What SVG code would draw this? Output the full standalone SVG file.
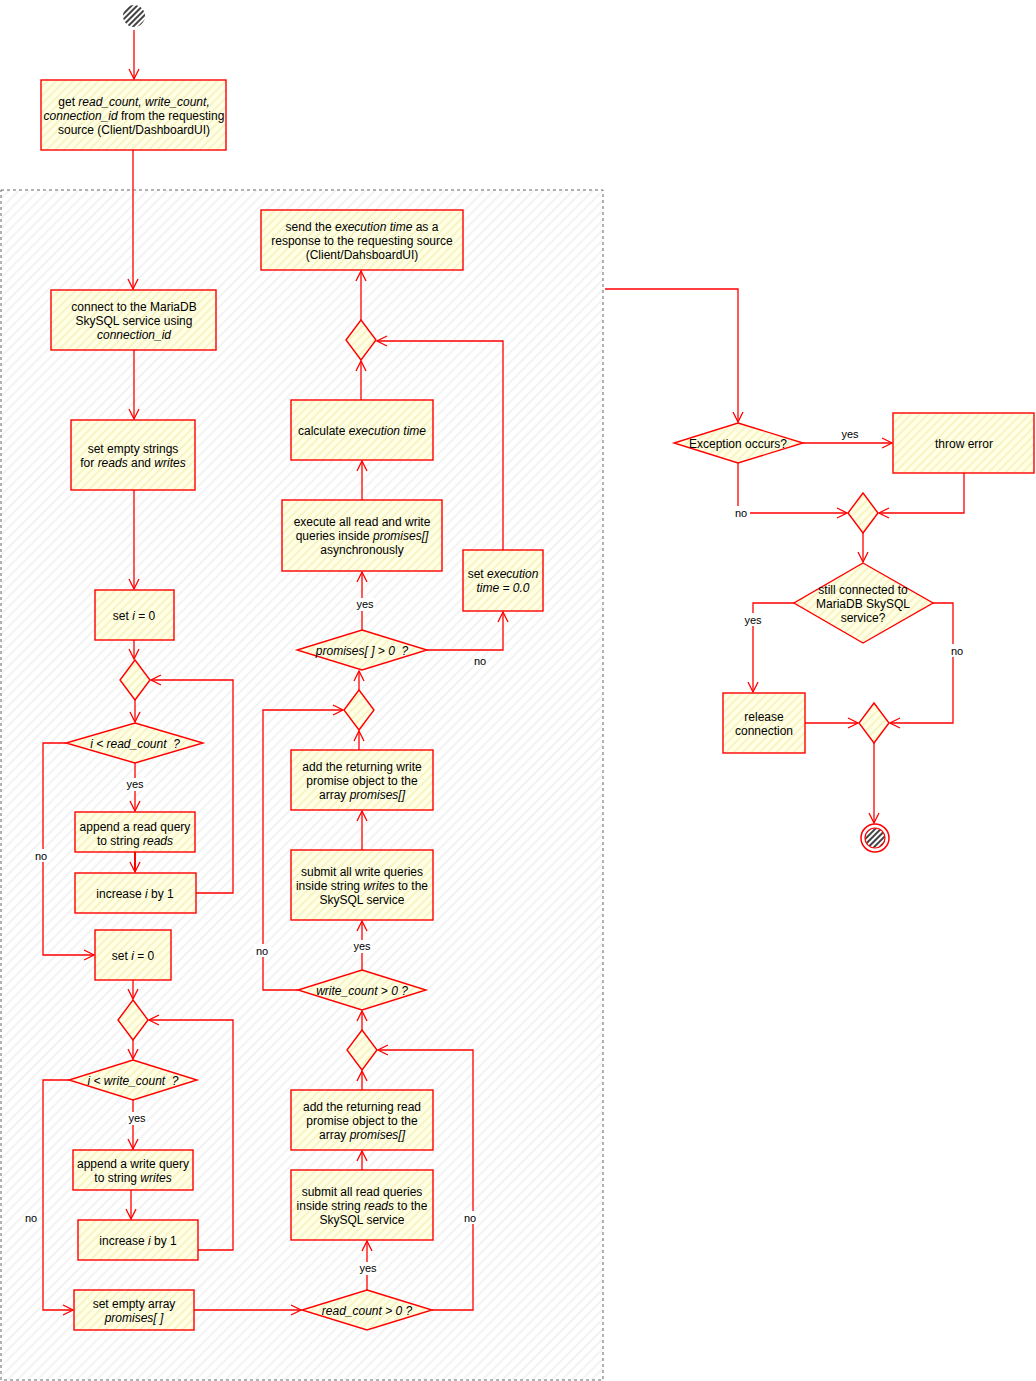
<svg xmlns="http://www.w3.org/2000/svg" width="1036" height="1381" viewBox="0 0 1036 1381">
<defs>
<pattern id="hy" patternUnits="userSpaceOnUse" width="6" height="6" patternTransform="rotate(-45)">
<rect width="6" height="6" fill="#ffffe6"/>
<line x1="0" y1="1" x2="6" y2="1" stroke="#f4efb4" stroke-width="1.4"/>
</pattern>
<pattern id="hg" patternUnits="userSpaceOnUse" width="7" height="7" patternTransform="rotate(-45)">
<rect width="7" height="7" fill="#ffffff"/>
<line x1="0" y1="1" x2="7" y2="1" stroke="#eeeeee" stroke-width="1.4"/>
</pattern>
<pattern id="hb" patternUnits="userSpaceOnUse" width="4" height="4" patternTransform="rotate(-45)">
<rect width="4" height="4" fill="#ffffff"/>
<line x1="0" y1="1" x2="4" y2="1" stroke="#111" stroke-width="1.6"/>
</pattern>
<marker id="ar" viewBox="0 0 12 12" refX="11" refY="6" markerWidth="12" markerHeight="12" markerUnits="userSpaceOnUse" orient="auto">
<path d="M1,1 L11,6 L1,11" fill="none" stroke="#ff0000" stroke-width="1.3"/>
</marker>
</defs>
<style>
.n rect,.n polygon{fill:url(#hy);stroke:#ff0000;stroke-width:1.4}
.c path{fill:none;stroke:#ff0000;stroke-width:1.3;marker-end:url(#ar)}
text{font-family:"Liberation Sans",Arial,sans-serif;font-size:12px;fill:#000;text-anchor:middle}
.l{font-size:11px}
.lb{fill:#ffffff;stroke:none}
</style>
<rect width="1036" height="1381" fill="#ffffff"/>
<g id="container">
<rect x="1" y="190" width="602" height="1190" fill="url(#hg)" stroke="#666" stroke-width="1" stroke-dasharray="3,3"/>
</g>

<g class="c" id="connectors">
<path d="M134,30 L134,79"/>
<path d="M133,150 L133,289"/>
<path d="M134,350 L134,419"/>
<path d="M134,490 L134,589"/>
<path d="M134,640 L134,659"/>
<path d="M135,700 L135,722"/>
<path d="M135,763 L135,811"/>
<path d="M135,852 L135,872" style="stroke-width:2"/>
<path d="M196,893 L233,893 L233,680 L151,680"/>
<path d="M66,743 L43,743 L43,955 L94,955"/>
<path d="M133,980 L133,999"/>
<path d="M133,1040 L133,1059"/>
<path d="M133,1100 L133,1149"/>
<path d="M131,1190 L131,1219"/>
<path d="M198,1250 L233,1250 L233,1020 L149,1020"/>
<path d="M69,1080 L43,1080 L43,1310 L73,1310"/>
<path d="M194,1310 L301,1310"/>
<path d="M367,1290 L367,1241"/>
<path d="M362,1170 L362,1151"/>
<path d="M362,1090 L362,1071"/>
<path d="M432,1310 L473,1310 L473,1050 L378,1050"/>
<path d="M362,1030 L362,1011"/>
<path d="M362,970 L362,921"/>
<path d="M362,850 L362,811"/>
<path d="M359,750 L359,731"/>
<path d="M298,990 L263,990 L263,710 L343,710"/>
<path d="M359,690 L359,671"/>
<path d="M362,630 L362,572"/>
<path d="M427,650 L503,650 L503,612"/>
<path d="M362,500 L362,461"/>
<path d="M361,400 L361,361"/>
<path d="M503,550 L503,341 L377,341"/>
<path d="M361,320 L361,271"/>
<path d="M605,289 L738,289 L738,422"/>
<path d="M803,443 L892,443"/>
<path d="M738,463 L738,513 L847,513"/>
<path d="M964,473 L964,513 L879,513"/>
<path d="M863,533 L863,562"/>
<path d="M794,603 L753,603 L753,692"/>
<path d="M933,603 L953,603 L953,723 L890,723"/>
<path d="M805,723 L858,723"/>
<path d="M874,743 L874,823"/>
</g>

<g id="edge-labels">
<rect class="lb" x="125" y="778" width="20" height="13"/><text class="l" x="135" y="788">yes</text>
<rect class="lb" x="33" y="849" width="17" height="13"/><text class="l" x="41" y="860">no</text>
<rect class="lb" x="127" y="1112" width="20" height="13"/><text class="l" x="137" y="1122">yes</text>
<text class="l" x="31" y="1222">no</text>
<rect class="lb" x="358" y="1262" width="20" height="13"/><text class="l" x="368" y="1272">yes</text>
<rect class="lb" x="462" y="1211" width="17" height="13"/><text class="l" x="470" y="1222">no</text>
<rect class="lb" x="352" y="940" width="20" height="13"/><text class="l" x="362" y="950">yes</text>
<rect class="lb" x="254" y="944" width="17" height="13"/><text class="l" x="262" y="955">no</text>
<rect class="lb" x="355" y="598" width="20" height="13"/><text class="l" x="365" y="608">yes</text>
<text class="l" x="480" y="665">no</text>
<text class="l" x="850" y="438">yes</text>
<rect class="lb" x="733" y="506" width="17" height="13"/><text class="l" x="741" y="517">no</text>
<rect class="lb" x="743" y="613" width="20" height="13"/><text class="l" x="753" y="624">yes</text>
<rect class="lb" x="949" y="644" width="17" height="13"/><text class="l" x="957" y="655">no</text>
</g>

<g id="start"><circle cx="134" cy="16" r="11" fill="url(#hb)"/></g>

<g class="n" id="get-params"><rect x="41" y="80" width="185" height="70"/>
<text x="134" y="106">get <tspan font-style="italic">read_count, write_count,</tspan></text>
<text x="134" y="120"><tspan font-style="italic">connection_id</tspan> from the requesting</text>
<text x="134" y="134">source (Client/DashboardUI)</text></g>

<g class="n" id="connect"><rect x="51" y="290" width="165" height="60"/>
<text x="134" y="311">connect to the MariaDB</text>
<text x="134" y="325">SkySQL service using</text>
<text x="134" y="339" font-style="italic">connection_id</text></g>

<g class="n" id="empty-strings"><rect x="71" y="420" width="124" height="70"/>
<text x="133" y="453">set empty strings</text>
<text x="133" y="467">for <tspan font-style="italic">reads</tspan> and <tspan font-style="italic">writes</tspan></text></g>

<g class="n" id="set-i-1"><rect x="95" y="590" width="79" height="50"/>
<text x="134" y="620">set <tspan font-style="italic">i</tspan> = 0</text></g>

<g class="n" id="merge-1"><polygon points="135,660 150,680 135,700 120,680"/></g>

<g class="n" id="cond-read"><polygon points="135,723 203,743 135,763 66,743"/>
<text x="135" y="748" font-style="italic" xml:space="preserve">i &lt; read_count  ?</text></g>

<g class="n" id="append-read"><rect x="75" y="812" width="120" height="40"/>
<text x="135" y="831">append a read query</text>
<text x="135" y="845">to string <tspan font-style="italic">reads</tspan></text></g>

<g class="n" id="inc-1"><rect x="75" y="873" width="121" height="40"/>
<text x="135" y="898">increase <tspan font-style="italic">i</tspan> by 1</text></g>

<g class="n" id="set-i-2"><rect x="95" y="930" width="76" height="50"/>
<text x="133" y="960">set <tspan font-style="italic">i</tspan> = 0</text></g>

<g class="n" id="merge-2"><polygon points="133,1000 148,1020 133,1040 118,1020"/></g>

<g class="n" id="cond-write"><polygon points="133,1060 197,1080 133,1100 69,1080"/>
<text x="133" y="1085" font-style="italic" xml:space="preserve">i &lt; write_count  ?</text></g>

<g class="n" id="append-write"><rect x="73" y="1150" width="120" height="40"/>
<text x="133" y="1168">append a write query</text>
<text x="133" y="1182">to string <tspan font-style="italic">writes</tspan></text></g>

<g class="n" id="inc-2"><rect x="78" y="1220" width="120" height="40"/>
<text x="138" y="1245">increase <tspan font-style="italic">i</tspan> by 1</text></g>

<g class="n" id="empty-array"><rect x="74" y="1290" width="120" height="40"/>
<text x="134" y="1308">set empty array</text>
<text x="134" y="1322" font-style="italic">promises[ ]</text></g>

<g class="n" id="cond-readcount"><polygon points="367,1290 432,1310 367,1330 302,1310"/>
<text x="367" y="1315" font-style="italic">read_count &gt; 0 ?</text></g>

<g class="n" id="submit-read"><rect x="291" y="1170" width="142" height="70"/>
<text x="362" y="1196">submit all read queries</text>
<text x="362" y="1210">inside string <tspan font-style="italic">reads</tspan> to the</text>
<text x="362" y="1224">SkySQL service</text></g>

<g class="n" id="add-read"><rect x="291" y="1090" width="142" height="60"/>
<text x="362" y="1111">add the returning read</text>
<text x="362" y="1125">promise object to the</text>
<text x="362" y="1139">array <tspan font-style="italic">promises[]</tspan></text></g>

<g class="n" id="merge-3"><polygon points="362,1030 377,1050 362,1070 347,1050"/></g>

<g class="n" id="cond-writecount"><polygon points="362,970 426,990 362,1010 298,990"/>
<text x="362" y="995" font-style="italic">write_count &gt; 0 ?</text></g>

<g class="n" id="submit-write"><rect x="291" y="850" width="142" height="70"/>
<text x="362" y="876">submit all write queries</text>
<text x="362" y="890">inside string <tspan font-style="italic">writes</tspan> to the</text>
<text x="362" y="904">SkySQL service</text></g>

<g class="n" id="add-write"><rect x="291" y="750" width="142" height="60"/>
<text x="362" y="771">add the returning write</text>
<text x="362" y="785">promise object to the</text>
<text x="362" y="799">array <tspan font-style="italic">promises[]</tspan></text></g>

<g class="n" id="merge-4"><polygon points="359,690 374,710 359,730 344,710"/></g>

<g class="n" id="cond-promises"><polygon points="362,630 427,650 362,670 297,650"/>
<text x="362" y="655" font-style="italic" xml:space="preserve">promises[ ] &gt; 0  ?</text></g>

<g class="n" id="execute"><rect x="282" y="500" width="160" height="71"/>
<text x="362" y="526">execute all read and write</text>
<text x="362" y="540">queries inside <tspan font-style="italic">promises[]</tspan></text>
<text x="362" y="554">asynchronously</text></g>

<g class="n" id="set-exec-zero"><rect x="463" y="550" width="80" height="61"/>
<text x="503" y="578">set <tspan font-style="italic">execution</tspan></text>
<text x="503" y="592" font-style="italic">time = 0.0</text></g>

<g class="n" id="calc-time"><rect x="291" y="400" width="142" height="60"/>
<text x="362" y="435">calculate <tspan font-style="italic">execution time</tspan></text></g>

<g class="n" id="merge-5"><polygon points="361,320 376,340 361,360 346,340"/></g>

<g class="n" id="send-time"><rect x="261" y="210" width="202" height="60"/>
<text x="362" y="231">send the <tspan font-style="italic">execution time</tspan> as a</text>
<text x="362" y="245">response to the requesting source</text>
<text x="362" y="259">(Client/DahsboardUI)</text></g>

<g class="n" id="cond-exception"><polygon points="738,423 803,443 738,463 674,443"/>
<text x="738" y="448">Exception occurs?</text></g>

<g class="n" id="throw-error"><rect x="893" y="413" width="141" height="60"/>
<text x="964" y="448">throw error</text></g>

<g class="n" id="merge-6"><polygon points="863,493 878,513 863,533 848,513"/></g>

<g class="n" id="cond-connected"><polygon points="863,563 933,603 863,643 794,603"/>
<text x="863" y="594">still connected to</text>
<text x="863" y="608">MariaDB SkySQL</text>
<text x="863" y="622">service?</text></g>

<g class="n" id="release"><rect x="723" y="693" width="82" height="60"/>
<text x="764" y="721">release</text>
<text x="764" y="735">connection</text></g>

<g class="n" id="merge-7"><polygon points="874,703 889,723 874,743 859,723"/></g>

<g id="end">
<circle cx="875" cy="838" r="14" fill="#ffffff" stroke="#ff0000" stroke-width="1.5"/>
<circle cx="875" cy="838" r="10" fill="url(#hb)" stroke="#ff0000" stroke-width="1.2"/>
</g>
</svg>
